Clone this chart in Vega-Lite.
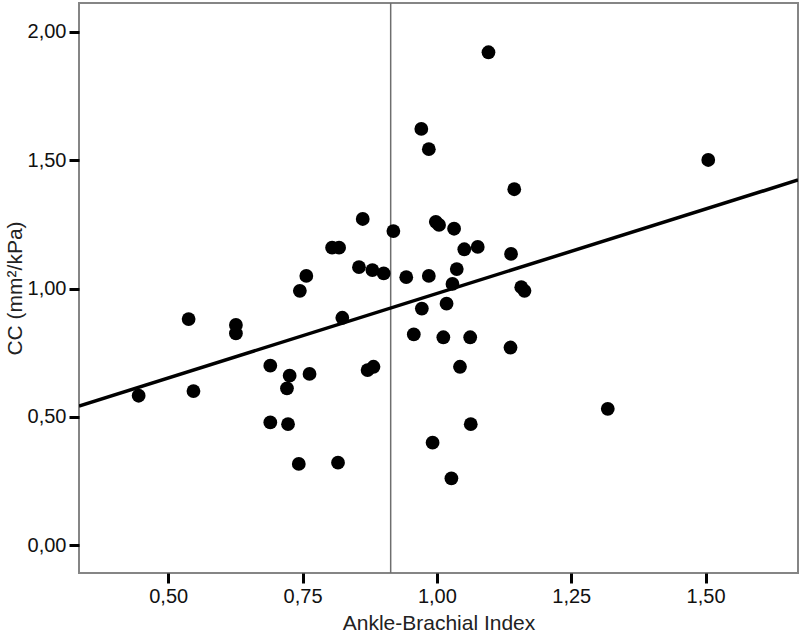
{
  "$schema": "https://vega.github.io/schema/vega-lite/v6.json",
  "autosize": "none",
  "width": 719,
  "height": 570,
  "padding": {"left": 79, "top": 3, "right": 2, "bottom": 65},
  "background": "white",
  "config": {
    "view": {"stroke": "#858585", "strokeWidth": 2},
    "font": "Liberation Sans",
    "axis": {
      "grid": false,
      "domain": false,
      "tickColor": "black",
      "tickWidth": 3,
      "tickSize": 10,
      "labelFont": "Liberation Sans",
      "labelFontSize": 20,
      "labelColor": "#111",
      "titleFont": "Liberation Sans",
      "titleFontSize": 21,
      "titleFontWeight": "normal",
      "titleColor": "#222"
    }
  },
  "datasets": {
    "pts": [
      {"abi": 0.445, "cc": 0.582}, {"abi": 0.538, "cc": 0.881}, {"abi": 0.547, "cc": 0.600},
      {"abi": 0.626, "cc": 0.858}, {"abi": 0.626, "cc": 0.825}, {"abi": 0.690, "cc": 0.699},
      {"abi": 0.690, "cc": 0.478}, {"abi": 0.726, "cc": 0.660}, {"abi": 0.721, "cc": 0.611},
      {"abi": 0.723, "cc": 0.471}, {"abi": 0.743, "cc": 0.316}, {"abi": 0.745, "cc": 0.991},
      {"abi": 0.757, "cc": 1.049}, {"abi": 0.763, "cc": 0.667}, {"abi": 0.805, "cc": 1.159},
      {"abi": 0.818, "cc": 1.159}, {"abi": 0.816, "cc": 0.321}, {"abi": 0.824, "cc": 0.886},
      {"abi": 0.855, "cc": 1.083}, {"abi": 0.862, "cc": 1.271}, {"abi": 0.871, "cc": 0.682},
      {"abi": 0.882, "cc": 0.695}, {"abi": 0.880, "cc": 1.072}, {"abi": 0.901, "cc": 1.059},
      {"abi": 0.919, "cc": 1.224}, {"abi": 0.943, "cc": 1.044}, {"abi": 0.957, "cc": 0.821},
      {"abi": 0.971, "cc": 1.622}, {"abi": 0.972, "cc": 0.922}, {"abi": 0.985, "cc": 1.543},
      {"abi": 0.985, "cc": 1.049}, {"abi": 0.992, "cc": 0.399}, {"abi": 0.998, "cc": 1.260},
      {"abi": 1.004, "cc": 1.248}, {"abi": 1.012, "cc": 0.810}, {"abi": 1.018, "cc": 0.941},
      {"abi": 1.027, "cc": 0.260}, {"abi": 1.029, "cc": 1.018}, {"abi": 1.032, "cc": 1.233},
      {"abi": 1.037, "cc": 1.076}, {"abi": 1.043, "cc": 0.695}, {"abi": 1.051, "cc": 1.153},
      {"abi": 1.062, "cc": 0.810}, {"abi": 1.063, "cc": 0.471}, {"abi": 1.076, "cc": 1.162},
      {"abi": 1.096, "cc": 1.921}, {"abi": 1.137, "cc": 0.770}, {"abi": 1.138, "cc": 1.135},
      {"abi": 1.144, "cc": 1.387}, {"abi": 1.157, "cc": 1.005}, {"abi": 1.163, "cc": 0.991},
      {"abi": 1.318, "cc": 0.531}, {"abi": 1.505, "cc": 1.501}
    ],
    "fit": [
      {"abi": 0.334, "cc": 0.542},
      {"abi": 1.672, "cc": 1.423}
    ],
    "ref": [
      {"abi": 0.914}
    ]
  },
  "layer": [
    {
      "data": {"name": "ref"},
      "mark": {"type": "rule", "color": "#6e6e6e", "strokeWidth": 1.5},
      "encoding": {
        "x": {"field": "abi", "type": "quantitative"}
      }
    },
    {
      "data": {"name": "pts"},
      "mark": {"type": "circle", "color": "black", "opacity": 1, "size": 190},
      "encoding": {
        "x": {
          "field": "abi", "type": "quantitative",
          "scale": {"domain": [0.334, 1.672], "nice": false, "zero": false},
          "axis": {
            "title": "Ankle-Brachial Index",
            "values": [0.5, 0.75, 1, 1.25, 1.5],
            "labelExpr": "replace(format(datum.value, '.2f'), '.', ',')",
            "labelPadding": 3,
            "titlePadding": 6
          }
        },
        "y": {
          "field": "cc", "type": "quantitative",
          "scale": {"domain": [-0.109, 2.113], "nice": false, "zero": false},
          "axis": {
            "title": "CC (mm²/kPa)",
            "values": [0, 0.5, 1, 1.5, 2],
            "labelExpr": "replace(format(datum.value, '.2f'), '.', ',')",
            "labelPadding": 3,
            "titlePadding": 2
          }
        }
      }
    },
    {
      "data": {"name": "fit"},
      "mark": {"type": "line", "color": "black", "strokeWidth": 3.5, "clip": true},
      "encoding": {
        "x": {"field": "abi", "type": "quantitative"},
        "y": {"field": "cc", "type": "quantitative"}
      }
    }
  ]
}
